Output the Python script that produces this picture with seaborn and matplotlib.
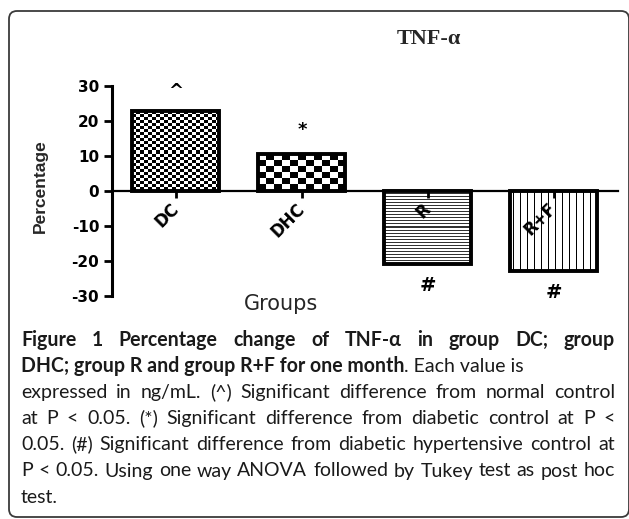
import numpy as np
import pandas as pd
import matplotlib
matplotlib.use("Agg")
import matplotlib.pyplot as plt
import seaborn as sns
from matplotlib.patches import FancyBboxPatch
from matplotlib.transforms import IdentityTransform

# ---------------- data ----------------
groups = ["DC", "DHC", "R", "R+F"]
percent_change = [22.7, 10.5, -20.9, -22.8]
significance = ["^", "*", "#", "#"]
textures = ["fine_check", "check", "hlines", "vlines"]
y_ticks = [-30, -20, -10, 0, 10, 20, 30]
title_text = "TNF-α"
x_label = "Groups"
y_label = "Percentage"
caption_bold_1 = "Figure 1 Percentage change of TNF-α in group DC; group"
caption_bold_2 = "DHC; group R and group R+F for one month"
caption_reg_2 = ". Each value is"
caption_rest = [
    "expressed in ng/mL. (^) Significant difference from normal control",
    "at P < 0.05. (*) Significant difference from diabetic control at P <",
    "0.05. (#) Significant difference from diabetic hypertensive control at",
    "P < 0.05. Using one way ANOVA followed by Tukey test as post hoc",
    "test.",
]

# ---------------- style ----------------
sns.set_theme(style="white")
plt.rcParams["font.family"] = ["DejaVu Sans"]

W, H = 629, 519
fig = plt.figure(figsize=(W / 100, H / 100), dpi=100)
fig.patch.set_facecolor("white")

# rounded frame (display pixels)
frame = FancyBboxPatch((9, 2), 620, 506, boxstyle="round,pad=0,rounding_size=8",
                       transform=IdentityTransform(), facecolor="none",
                       edgecolor="#3a3a3a", linewidth=1.3)
fig.patches.append(frame)
frame.set_figure(fig)

ax = fig.add_axes([111.7 / W, 1 - 295.7 / H, 506.3 / W, 210.0 / H])
df = pd.DataFrame({"group": groups, "value": percent_change})
sns.barplot(data=df, x="group", y="value", color="white", edgecolor="black",
            linewidth=2.8, width=0.69, saturation=1, errorbar=None, ax=ax)
ax.set_axisbelow(False)

ax.set_xlabel("")
ax.set_ylabel("")
ax.set_xlim(-0.51, 3.51)
ax.set_ylim(-30, 30)
for s in ["top", "right"]:
    ax.spines[s].set_visible(False)
ax.spines["bottom"].set_position(("data", 0))
ax.spines["bottom"].set_linewidth(1.6)
ax.spines["bottom"].set_color("black")
ax.spines["left"].set_linewidth(2.2)
ax.spines["left"].set_color("black")
ax.spines["left"].set_bounds(-30, 30)
ax.patch.set_alpha(0)

ax.set_yticks(y_ticks)
ax.set_yticklabels([str(t) for t in y_ticks], fontweight="bold")
ax.tick_params(axis="y", left=True, direction="out", length=6, width=2,
               pad=3, labelsize=11, colors="black")
ax.set_xticks(range(len(groups)))
ax.set_xticklabels(groups, rotation=45, ha="right", va="center",
                   rotation_mode="anchor", fontweight="bold")
ax.tick_params(axis="x", bottom=True, direction="out", length=5, width=2,
               pad=6, labelsize=12, colors="black")

# ---------------- textures inside bars ----------------
def make_texture(kind, w, h):
    yy, xx = np.mgrid[0:h, 0:w]
    if kind == "fine_check":
        return ((xx // 4 + yy // 3) % 2).astype(float)
    if kind == "check":
        return ((xx // 8 + yy // 6) % 2).astype(float)
    if kind == "hlines":
        return np.where(yy % 3 == 0, 0.8, 0.0)
    if kind == "vlines":
        return np.where(xx % 7 == 3, 1.0, 0.0)
    return np.zeros((h, w))

fig.canvas.draw()
renderer = fig.canvas.get_renderer()
for patch, kind in zip(list(ax.patches), textures):
    bb = patch.get_window_extent(renderer)
    wpx = max(int(round(bb.width)), 1)
    hpx = max(int(round(bb.height)), 1)
    arr = make_texture(kind, wpx, hpx)
    x0 = patch.get_x()
    x1 = x0 + patch.get_width()
    ya = patch.get_y()
    yb = ya + patch.get_height()
    ax.imshow(arr, extent=[x0, x1, min(ya, yb), max(ya, yb)], origin="upper",
              cmap="gray_r", vmin=0, vmax=1, interpolation="nearest",
              aspect="auto", zorder=0.9)
    patch.set_facecolor("none")
    patch.set_zorder(1.0)
ax.set_xlim(-0.51, 3.51)
ax.set_ylim(-30, 30)

# significance markers
sig_offsets = [20, 24, -22, -22]
sig_sizes = [13, 13, 14, 14]
for i, (v, sym) in enumerate(zip(percent_change, significance)):
    ax.annotate(sym, xy=(i, v), xytext=(0, sig_offsets[i]), textcoords="offset pixels",
                ha="center", va="center", fontsize=sig_sizes[i], fontweight="bold",
                color="black", annotation_clip=False)

# titles / labels
fig.text(429 / W, 1 - 38.5 / H, title_text, ha="center", va="center", fontsize=16,
         fontweight="bold", family=["Liberation Serif", "DejaVu Serif"])
fig.text(281 / W, 1 - 304 / H, x_label, ha="center", va="center", fontsize=15,
         family=["DejaVu Sans"])
fig.text(40 / W, 1 - 186 / H, y_label, ha="center", va="center", rotation=90,
         fontsize=12.5, fontweight="bold", family=["Liberation Sans", "DejaVu Sans"])

# ---------------- caption ----------------
cap_family = ["Lato", "DejaVu Sans"]
left_px, right_px = 21, 615
base0, step = 346, 26.1
cap_state = {"size": 12.0}

def add_word(s, x, y, weight):
    return fig.text(x / W, y / H, s, ha="left", va="baseline", fontsize=cap_state["size"],
                    fontweight=weight, family=cap_family, color="#1a1a1a")

def measure(s, weight):
    t = add_word(s, 0, 0, weight)
    w = t.get_window_extent(renderer).width
    t.remove()
    return w

# choose a caption size so the justified lines fit with natural spacing
just_lines = [(caption_bold_1, "bold")] + [(l, "normal") for l in caption_rest[:-1]]
ratio = min((right_px - left_px) / measure(l, wgt) for l, wgt in just_lines)
cap_state["size"] = cap_state["size"] * ratio * 0.985

def justified(line, yb, weight):
    words = line.split(" ")
    widths = [measure(w, weight) for w in words]
    gap = (right_px - left_px - sum(widths)) / max(len(words) - 1, 1)
    x = left_px
    for w, wd in zip(words, widths):
        add_word(w, x, yb, weight)
        x += wd + gap

lines_y = [H - (base0 + step * i) for i in range(7)]
justified(caption_bold_1, lines_y[0], "bold")
t2 = add_word(caption_bold_2, left_px, lines_y[1], "bold")
x_after = t2.get_window_extent(renderer).x1
add_word(caption_reg_2, x_after, lines_y[1], "normal")
for k, line in enumerate(caption_rest):
    yb = lines_y[2 + k]
    if k < len(caption_rest) - 1:
        justified(line, yb, "normal")
    else:
        add_word(line, left_px, yb, "normal")

fig.savefig("out.png", dpi=100, facecolor="white")
